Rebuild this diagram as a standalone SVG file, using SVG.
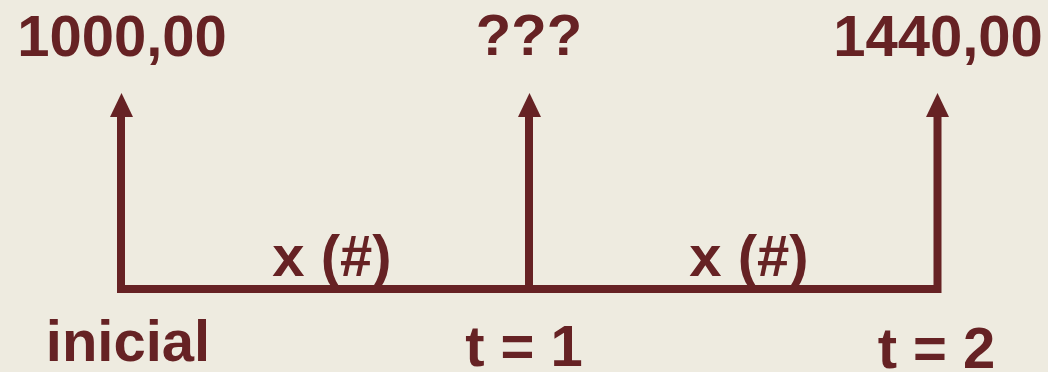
<svg xmlns="http://www.w3.org/2000/svg" width="1048" height="372" viewBox="0 0 1048 372">
  <defs>
    <style>
      .lbl { font-family: "Liberation Sans", Arial, sans-serif; font-weight: bold; font-size: 58px; fill: #662224; text-anchor: middle; }
      .ln { stroke: #662224; stroke-width: 8; fill: none; }
      .ah { fill: #662224; }
    </style>
  </defs>
  <rect x="0" y="0" width="1048" height="372" fill="#EEEBE0"/>
  <g id="connectors">
    <path class="ln" d="M121 115 V289 H937.5 V115"/>
    <path class="ln" d="M529 115 V289"/>
    <polygon class="ah" points="121.5,93 110,117 133,117"/>
    <polygon class="ah" points="529.5,93 518,117 541,117"/>
    <polygon class="ah" points="937.5,93 926,117 949,117"/>
  </g>
  <g id="node-v0"><text class="lbl" x="122" y="56">1000,00</text></g>
  <g id="node-v1"><text class="lbl" x="529" y="55">???</text></g>
  <g id="node-v2"><text class="lbl" x="938" y="56">1440,00</text></g>
  <g id="node-r1"><text class="lbl" x="332" y="276">x (#)</text></g>
  <g id="node-r2"><text class="lbl" x="749" y="276">x (#)</text></g>
  <g id="node-t0"><text class="lbl" x="128" y="361">inicial</text></g>
  <g id="node-t1"><text class="lbl" x="524" y="366">t = 1</text></g>
  <g id="node-t2"><text class="lbl" x="936.5" y="368">t = 2</text></g>
</svg>
